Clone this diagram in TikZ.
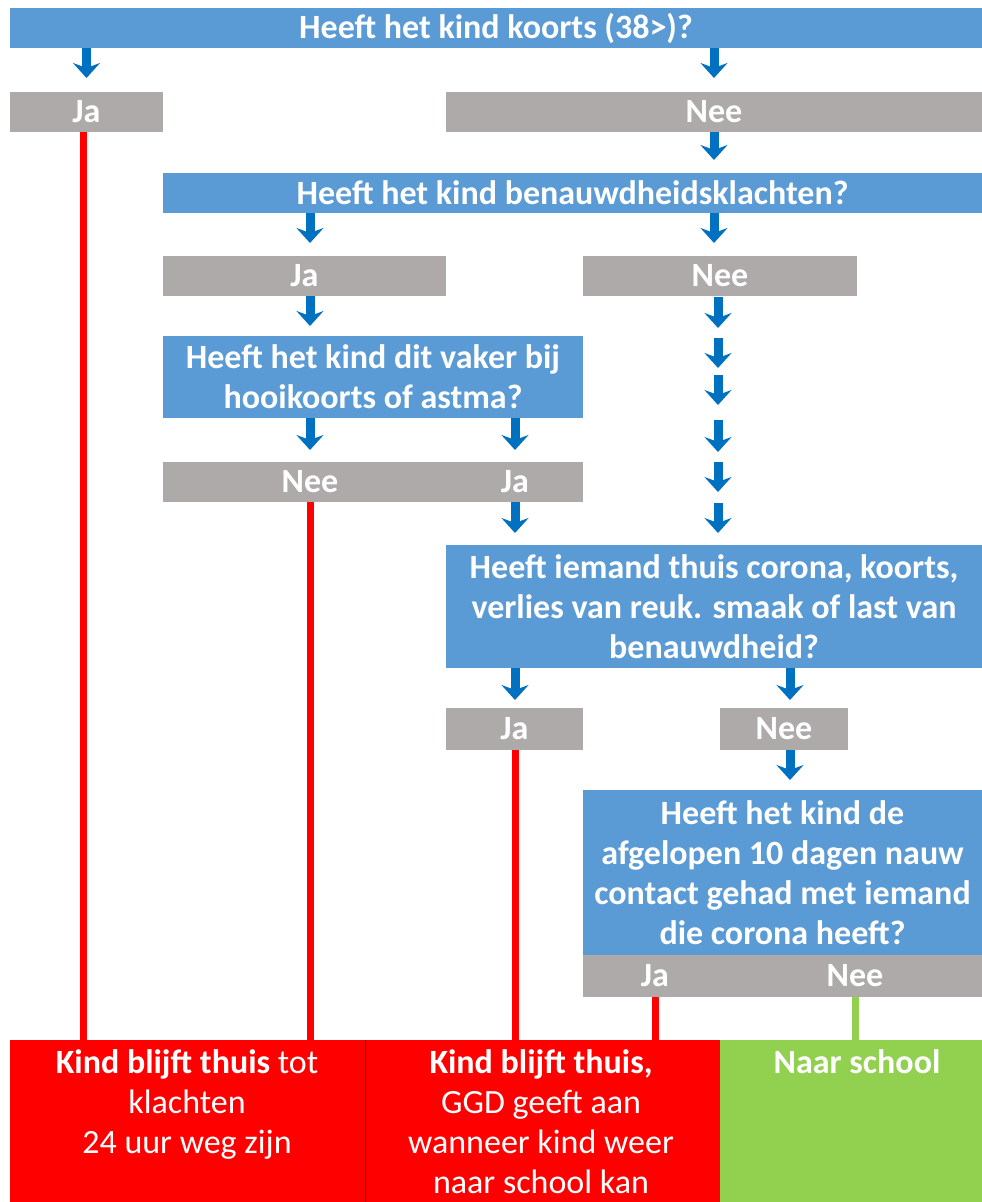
\documentclass[tikz,border=0pt]{standalone}
\usepackage{fontspec}
\setmainfont{Carlito}
\usetikzlibrary{arrows.meta}
\definecolor{qblue}{HTML}{5B9BD5}
\definecolor{ablue}{HTML}{0070C0}
\definecolor{agray}{HTML}{AEAAAA}
\definecolor{ored}{HTML}{FF0000}
\definecolor{ogreen}{HTML}{92D050}
\begin{document}
\begin{tikzpicture}[x=1pt,y=-1pt,
  box/.style={inner sep=0pt, outer sep=0pt, text=white, font={\fontsize{34}{40}\selectfont\bfseries}, align=center},
  qbox/.style={box, fill=qblue},
  abox/.style={box, fill=agray},
  rbox/.style={box, fill=ored},
  gbox/.style={box, fill=ogreen},
  lbl/.style={inner sep=0pt, outer sep=0pt, text=white, font={\fontsize{34}{40}\selectfont\bfseries}, align=center},
  barrow/.style={draw=ablue, line width=9pt, -{Stealth[length=15pt,width=27pt,inset=5pt]}},
  rline/.style={draw=ored, line width=7pt},
  gline/.style={draw=ogreen, line width=7pt}]
\useasboundingbox (0,0) rectangle (982,1202);
\fill[white] (0,0) rectangle (982,1202);
% questions
\node[qbox, minimum width=972pt, minimum height=40pt] (q1) at (496,28) {Heeft het kind koorts (38>)?};
\node[abox, minimum width=153pt, minimum height=40pt] (ja1) at (86.5,112) {Ja};
\node[abox, minimum width=536pt, minimum height=40pt] (nee1) at (714,112) {Nee};
\node[qbox, minimum width=819pt, minimum height=40pt] (q2) at (572.5,193) {Heeft het kind benauwdheidsklachten?};
\node[abox, minimum width=283pt, minimum height=40pt] (ja2) at (304.5,276) {Ja};
\node[abox, minimum width=274pt, minimum height=40pt] (nee2) at (720,276) {Nee};
\node[qbox, minimum width=420pt, minimum height=82pt] (q3) at (373,377) {Heeft het kind dit vaker bij\\hooikoorts of astma?};
\node[abox, minimum width=420pt, minimum height=40pt] (a3) at (373,482) {};
\node[lbl] (a3n) at (310,482) {Nee};
\node[lbl] (a3j) at (515,482) {Ja};
\node[qbox, minimum width=536pt, minimum height=123pt] (q4) at (714,606.5) {Heeft iemand thuis corona, koorts,\\verlies van reuk. smaak of last van\\benauwdheid?};
\node[abox, minimum width=137pt, minimum height=42pt] (ja4) at (514.5,729) {Ja};
\node[abox, minimum width=128pt, minimum height=42pt] (nee4) at (784,729) {Nee};
\node[qbox, minimum width=399pt, minimum height=165pt] (q5) at (782.5,872.5) {Heeft het kind de\\afgelopen 10 dagen nauw\\contact gehad met iemand\\die corona heeft?};
\node[abox, minimum width=399pt, minimum height=42pt] (a5) at (782.5,976) {};
\node[lbl] (a5j) at (655,976) {Ja};
\node[lbl] (a5n) at (855,976) {Nee};
% outcomes
\node[rbox, minimum width=355pt, minimum height=162pt] (r1) at (187.5,1121) {};
\node[rbox, minimum width=355pt, minimum height=162pt] (r2) at (542.5,1121) {};
\node[gbox, minimum width=262pt, minimum height=162pt] (g1) at (851,1121) {};
\draw[black, line width=1pt] (r1.north east) -- (r1.south east);
\node[lbl, anchor=north] (r1t) at (187,1050) {Kind blijft thuis \mdseries tot\\\mdseries klachten\\\mdseries 24 uur weg zijn};
\node[lbl, anchor=north] (r2t) at (541,1050) {Kind blijft thuis,\\\mdseries GGD geeft aan\\\mdseries wanneer kind weer\\\mdseries naar school kan};
\node[lbl, anchor=north] (g1t) at (857,1050) {Naar school};
% arrows
\draw[barrow] (q1.south -| ja1.center) -- ([yshift=14pt]ja1.north);
\draw[barrow] (q1.south -| nee1.center) -- ([yshift=14pt]nee1.north);
\draw[barrow] (nee1.south) -- ([yshift=13pt]q2.north -| nee1.center);
\draw[barrow] (q2.south -| 310,0) -- ([yshift=13pt]ja2.north -| 310,0);
\draw[barrow] (q2.south -| nee1.center) -- ([yshift=13pt]nee2.north -| nee1.center);
\draw[barrow] (ja2.south -| 310,0) -- ([yshift=10pt]q3.north -| 310,0);
\draw[barrow] (q3.south -| a3n) -- ([yshift=12pt]a3.north -| a3n);
\draw[barrow] (q3.south -| a3j) -- ([yshift=12pt]a3.north -| a3j);
\draw[barrow] (a3.south -| a3j) -- ([yshift=12pt]q4.north -| a3j);
\foreach \a/\b in {297/328,338/368,375/405,420/452,462/492,503/533}
  \draw[barrow] (718,\a) -- (718,\b);
\draw[barrow] (q4.south -| a3j) -- ([yshift=8pt]ja4.north -| a3j);
\draw[barrow] (q4.south -| 790,0) -- ([yshift=8pt]nee4.north -| 790,0);
\draw[barrow] (nee4.south -| 790,0) -- ([yshift=10pt]q5.north -| 790,0);
% result lines
\draw[rline] (ja1.south -| 83,0) -- (r1.north -| 83,0);
\draw[rline] (a3.south -| a3n) -- (r1.north -| a3n);
\draw[rline] (ja4.south -| a3j) -- (r2.north -| a3j);
\draw[rline] (a5.south -| a5j) -- (r2.north -| a5j);
\draw[gline] (a5.south -| a5n) -- (g1.north -| a5n);
\end{tikzpicture}
\end{document}
